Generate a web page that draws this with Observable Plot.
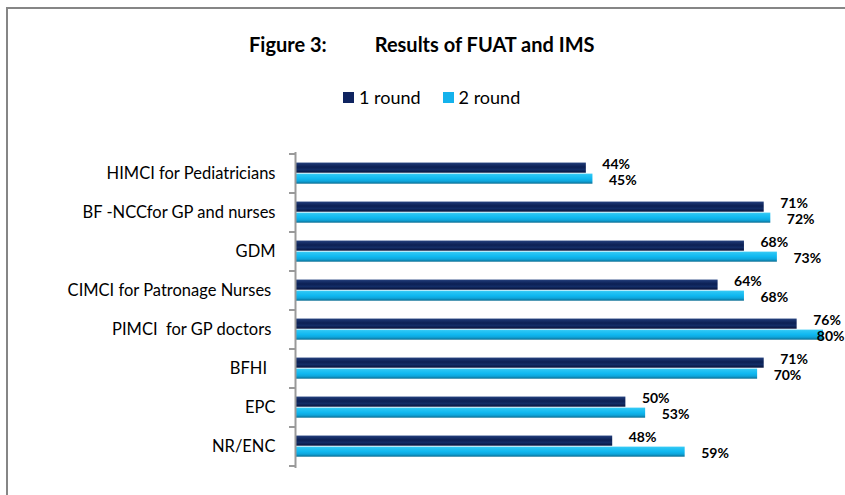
<!DOCTYPE html>
<html>
<head>
<meta charset="utf-8">
<script src="https://cdn.jsdelivr.net/npm/d3@7"></script>
<script src="https://cdn.jsdelivr.net/npm/@observablehq/plot@0.6"></script>
<style>
  html, body { margin: 0; padding: 0; background: #fff; overflow: hidden; }
  #wrap { position: relative; width: 845px; height: 495px; font-family: Lato, "Open Sans", sans-serif; }
  #frame { position: absolute; left: 6px; top: 7px; width: 1000px; height: 1000px;
           border-left: 2px solid #868686; border-top: 2px solid #868686; box-sizing: border-box; }
  #header { position: relative; height: 120px; }
  #title { position: absolute; left: 249px; top: 34px; font-size: 20px; line-height: 20px; font-weight: bold; color: #000; white-space: nowrap; }
  #title .gap { display: inline-block; width: 48px; }
  #legend { position: absolute; left: 343px; top: 88px; font-size: 18px; line-height: 18px; color: #000; display: flex; align-items: center; white-space: nowrap; }
  #legend .sw { display: inline-block; width: 11px; height: 11px; margin-right: 5px; margin-top: 1px; }
  #legend .item { display: flex; align-items: center; margin-right: 22px; }
  #chart svg text { white-space: pre; }
</style>
</head>
<body>
<div id="wrap">
  <div id="frame"></div>
  <div id="header">
    <div id="title">Figure 3:<span class="gap"></span>Results of FUAT and IMS</div>
    <div id="legend"></div>
  </div>
  <div id="chart"></div>
</div>
<script>
// ---- data ----
const categories = [
  "HIMCI for Pediatricians",
  "BF -NCCfor GP and nurses",
  "GDM",
  "CIMCI for Patronage Nurses ",
  "PIMCI  for GP doctors ",
  "BFHI  ",
  "EPC",
  "NR/ENC"
];
const seriesNames = ["1 round", "2 round"];
const round1 = [0.44, 0.71, 0.68, 0.64, 0.76, 0.71, 0.50, 0.48];
const round2 = [0.45, 0.72, 0.73, 0.68, 0.80, 0.70, 0.53, 0.59];
const seriesColors = ["#0f2460", "#14b2ec"];

// ---- table ----
const rows1 = categories.map((c, i) => ({category: c, series: seriesNames[0], value: round1[i]}));
const rows2 = categories.map((c, i) => ({category: c, series: seriesNames[1], value: round2[i]}));
const pct = d3.format(".0%");

// legend
const legend = document.getElementById("legend");
seriesNames.forEach((s, i) => {
  const it = document.createElement("div");
  it.className = "item";
  it.innerHTML = `<span class="sw" style="background:${seriesColors[i]}"></span><span>${s}</span>`;
  legend.appendChild(it);
});

const fits = d => d.value < 0.78;
const labelStyle = {x: "value", y: "category", text: d => pct(d.value), fontWeight: "bold", fontSize: 14, fill: "#000"};

const chart = Plot.plot({
  width: 845,
  height: 375,
  marginTop: 32,
  marginBottom: 27,
  marginLeft: 296,
  marginRight: 22,
  x: {domain: [0, 0.8], axis: null},
  y: {domain: categories, padding: 0, axis: null},
  style: {fontFamily: "Lato, 'Open Sans', sans-serif", background: "transparent", color: "#000", overflow: "visible"},
  marks: [
    Plot.barX(rows1, {x: "value", y: "category", fill: seriesColors[0], insetTop: 8.3, insetBottom: 20.3}),
    Plot.barX(rows2, {x: "value", y: "category", fill: seriesColors[1], insetTop: 19.3, insetBottom: 9.3}),
    Plot.ruleX([0], {stroke: "#9a9a9a", strokeWidth: 2, dx: -1}),
    Plot.axisY({tickSize: 0, tickPadding: 21, fontSize: 16.5, fill: "#000", dy: 0, label: null}),
    Plot.text(rows1, {...labelStyle, filter: fits, dx: 16, dy: -9.5, textAnchor: "start"}),
    Plot.text(rows2, {...labelStyle, filter: fits, dx: 16, dy: 6.5, textAnchor: "start"}),
    Plot.text(rows1, {...labelStyle, filter: d => !fits(d), dx: 21, dy: -9.5, textAnchor: "end"}),
    Plot.text(rows2, {...labelStyle, filter: d => !fits(d), dx: 21, dy: 6.5, textAnchor: "end"})
  ]
});

// gradients for the 3D-like bar shading
const ns = "http://www.w3.org/2000/svg";
const defs = document.createElementNS(ns, "defs");
defs.innerHTML = `
  <linearGradient id="gNavy" x1="0" y1="0" x2="0" y2="1">
    <stop offset="0" stop-color="#8a9bbd"/>
    <stop offset="0.12" stop-color="#1c3672"/>
    <stop offset="0.45" stop-color="#0c2054"/>
    <stop offset="0.7" stop-color="#132d66"/>
    <stop offset="1" stop-color="#06113a"/>
  </linearGradient>
  <linearGradient id="gCyan" x1="0" y1="0" x2="0" y2="1">
    <stop offset="0" stop-color="#a6e8fb"/>
    <stop offset="0.12" stop-color="#2cc6f4"/>
    <stop offset="0.5" stop-color="#10b8f0"/>
    <stop offset="0.75" stop-color="#0ea6dc"/>
    <stop offset="1" stop-color="#0b6d92"/>
  </linearGradient>`;
chart.insertBefore(defs, chart.firstChild);
const barGroups = chart.querySelectorAll('g[aria-label="bar"]');
if (barGroups[0]) barGroups[0].setAttribute("fill", "url(#gNavy)");
if (barGroups[1]) barGroups[1].setAttribute("fill", "url(#gCyan)");

// category boundary ticks on the axis, positioned with the chart's own scales
const ys = chart.scale("y");
const xs = chart.scale("x");
const x0 = xs.apply(0) - 1;
const edges = categories.map(c => ys.apply(c)).concat([ys.apply(categories[categories.length - 1]) + ys.bandwidth]);
const tg = document.createElementNS(ns, "g");
tg.setAttribute("stroke", "#9a9a9a");
tg.setAttribute("stroke-width", "2");
edges.forEach(y => {
  const l = document.createElementNS(ns, "line");
  l.setAttribute("x1", x0 - 6); l.setAttribute("x2", x0);
  l.setAttribute("y1", y); l.setAttribute("y2", y);
  tg.appendChild(l);
});
chart.appendChild(tg);

document.getElementById("chart").appendChild(chart);
</script>
</body>
</html>
